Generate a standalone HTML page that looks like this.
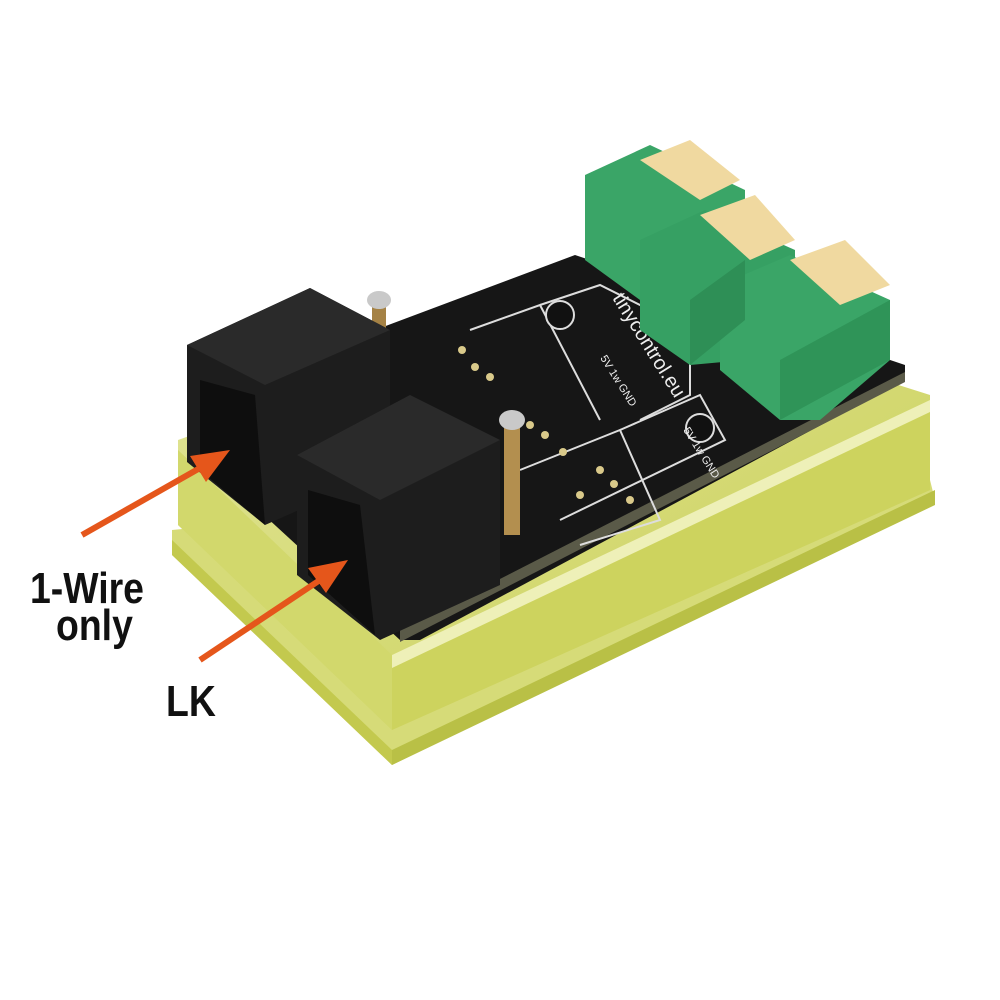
<!DOCTYPE html>
<html><head><meta charset="utf-8"><style>
html,body{margin:0;padding:0;background:#fff;width:1000px;height:1000px;overflow:hidden}
svg{display:block}
text{font-family:"Liberation Sans",sans-serif}
</style></head><body>
<svg width="1000" height="1000" viewBox="0 0 1000 1000">
<defs>
<linearGradient id="acr" x1="0" y1="0" x2="1" y2="1">
<stop offset="0" stop-color="#e2e69a"/><stop offset="1" stop-color="#c9cf55"/></linearGradient>
</defs>
<polygon points="172,530 380,510 930,480 935,500 392,765 172,555" fill="#d6db78"/>
<polygon points="172,540 392,750 392,765 172,555" fill="#c3c94e"/>
<polygon points="392,750 935,490 935,505 392,765" fill="#b9c046"/>
<polygon points="178,440 600,290 930,395 930,490 392,730 178,525" fill="url(#acr)"/>
<polygon points="178,450 392,655 392,730 178,525" fill="#d2d86c"/>
<polygon points="392,655 930,400 930,490 392,730" fill="#cdd35e"/>
<polygon points="392,655 930,400 930,412 392,668" fill="#eef0b8"/>
<polygon points="215,390 575,255 905,365 905,380 420,640 400,640 215,470" fill="#161616"/>
<polygon points="400,630 905,372 905,382 400,642" fill="#5a5a48"/>
<g stroke="#ddd" stroke-width="2" fill="none">
<polyline points="540,305 600,285 690,330 690,395 640,420"/>
<polyline points="620,430 700,395 725,440 560,520"/>
<polyline points="470,330 540,305 600,420"/>
<polyline points="520,470 620,430 660,520 580,545"/>
</g>
<circle cx="560" cy="315" r="14" fill="#111" stroke="#ddd" stroke-width="2"/>
<circle cx="700" cy="428" r="14" fill="#111" stroke="#ddd" stroke-width="2"/>
<g fill="#d9c98a">
<circle cx="462" cy="350" r="4"/><circle cx="475" cy="367" r="4"/><circle cx="490" cy="377" r="4"/>
<circle cx="530" cy="425" r="4"/><circle cx="545" cy="435" r="4"/><circle cx="563" cy="452" r="4"/>
<circle cx="600" cy="470" r="4"/><circle cx="614" cy="484" r="4"/><circle cx="580" cy="495" r="4"/><circle cx="630" cy="500" r="4"/>
</g>
<text x="0" y="0" fill="#eee" font-size="20" transform="translate(612,298) rotate(58)">tinycontrol.eu</text>
<text x="0" y="0" fill="#eee" font-size="11" transform="translate(600,358) rotate(58)">5V 1w GND</text>
<text x="0" y="0" fill="#eee" font-size="11" transform="translate(683,430) rotate(58)">5V 1w GND</text>
<g>
<polygon points="585,175 650,145 745,190 745,260 690,300 640,300 585,260" fill="#3aa567"/>
<polygon points="640,240 705,210 795,250 795,320 745,360 690,365 640,330" fill="#36a063"/>
<polygon points="720,285 790,255 890,300 890,360 820,420 780,420 720,370" fill="#3aa567"/>
<polygon points="640,160 690,140 740,180 700,200" fill="#f0d9a0"/>
<polygon points="700,215 755,195 795,240 750,260" fill="#f0d9a0"/>
<polygon points="790,260 845,240 890,285 840,305" fill="#f0d9a0"/>
<polygon points="690,300 745,260 745,320 690,365" fill="#2e8f56"/>
<polygon points="780,420 890,360 890,300 780,360" fill="#2f9458"/>
</g>
<rect x="372" y="305" width="14" height="100" fill="#a58245"/>
<ellipse cx="379" cy="300" rx="12" ry="9" fill="#c9c9c9"/>
<rect x="504" y="425" width="16" height="110" fill="#b38f4f"/>
<ellipse cx="512" cy="420" rx="13" ry="10" fill="#c9c9c9"/>
<polygon points="187,345 310,288 390,330 390,470 265,525 187,462" fill="#1d1d1d"/>
<polygon points="187,345 310,288 390,330 265,385" fill="#2a2a2a"/>
<polygon points="200,380 255,395 265,525 200,470" fill="#0e0e0e"/>
<polygon points="297,455 410,395 500,440 500,585 380,640 297,575" fill="#1d1d1d"/>
<polygon points="297,455 410,395 500,440 380,500" fill="#2a2a2a"/>
<polygon points="308,490 360,505 375,635 308,575" fill="#0e0e0e"/>
<g stroke="#e5561b" stroke-width="6" fill="#e5561b">
<line x1="82" y1="535" x2="200" y2="468"/>
<polygon points="230,450 190,456 206,482" stroke="none"/>
<line x1="200" y1="660" x2="320" y2="580"/>
<polygon points="348,560 308,568 326,593" stroke="none"/>
</g>
<g font-size="44" font-weight="bold" fill="#111">
<text x="30" y="603" transform="translate(30,603) scale(0.85,1) translate(-30,-603)">1-Wire</text>
<text x="56" y="640" transform="translate(56,640) scale(0.85,1) translate(-56,-640)">only</text>
<text x="166" y="716" transform="translate(166,716) scale(0.85,1) translate(-166,-716)">LK</text>
</g>
</svg>
</body></html>
